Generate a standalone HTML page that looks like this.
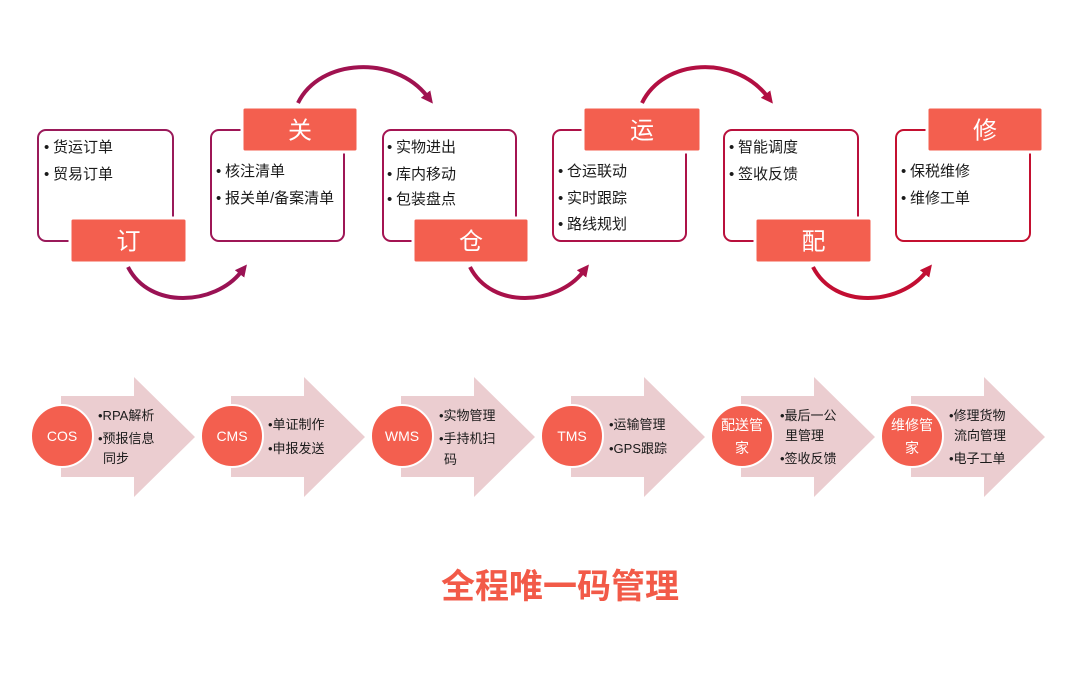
<!DOCTYPE html>
<html>
<head>
<meta charset="utf-8">
<style>
  html,body{margin:0;padding:0;background:#fff;}
  body{width:1080px;height:681px;overflow:hidden;}
  svg{display:block;}
  text{font-family:"Liberation Sans","Noto Sans CJK SC",sans-serif;}
  .li{font-size:15px;fill:#1a1a1a;}
  .lo{font-size:13px;fill:#1a1a1a;}
  .lab{font-size:24px;fill:#fff;}
  .cl{font-size:14px;fill:#fff;}
</style>
</head>
<body>
<svg width="1080" height="681" viewBox="0 0 1080 681" xmlns="http://www.w3.org/2000/svg">
  <defs>
    <marker id="h1" viewBox="0 0 10 10" refX="2" refY="5" markerWidth="3" markerHeight="3" orient="auto" markerUnits="strokeWidth"><path d="M0,0 L10,5 L0,10 z" fill="#9a1254"/></marker>
    <marker id="h2" viewBox="0 0 10 10" refX="2" refY="5" markerWidth="3" markerHeight="3" orient="auto" markerUnits="strokeWidth"><path d="M0,0 L10,5 L0,10 z" fill="#a01250"/></marker>
    <marker id="h3" viewBox="0 0 10 10" refX="2" refY="5" markerWidth="3" markerHeight="3" orient="auto" markerUnits="strokeWidth"><path d="M0,0 L10,5 L0,10 z" fill="#a8114a"/></marker>
    <marker id="h4" viewBox="0 0 10 10" refX="2" refY="5" markerWidth="3" markerHeight="3" orient="auto" markerUnits="strokeWidth"><path d="M0,0 L10,5 L0,10 z" fill="#b20f42"/></marker>
    <marker id="h5" viewBox="0 0 10 10" refX="2" refY="5" markerWidth="3" markerHeight="3" orient="auto" markerUnits="strokeWidth"><path d="M0,0 L10,5 L0,10 z" fill="#c20e32"/></marker>
  </defs>

  <!-- curved connectors -->
  <path d="M128,267 C150,310 215,305 241,272" fill="none" stroke="#9a1254" stroke-width="4" marker-end="url(#h1)"/>
  <path d="M298,103 C320,58 395,55 427,96" fill="none" stroke="#a01250" stroke-width="4" marker-end="url(#h2)"/>
  <path d="M470,267 C492,310 557,305 583,272" fill="none" stroke="#a8114a" stroke-width="4" marker-end="url(#h3)"/>
  <path d="M642,103 C664,58 735,55 767,96" fill="none" stroke="#b20f42" stroke-width="4" marker-end="url(#h4)"/>
  <path d="M813,267 C835,310 900,305 926,272" fill="none" stroke="#c20e32" stroke-width="4" marker-end="url(#h5)"/>

  <!-- boxes -->
  <rect x="38" y="130" width="135" height="111" rx="8" fill="#fff" stroke="#9a1a5a" stroke-width="2"/>
  <rect x="211" y="130" width="133" height="111" rx="8" fill="#fff" stroke="#9e1656" stroke-width="2"/>
  <rect x="383" y="130" width="133" height="111" rx="8" fill="#fff" stroke="#a41452" stroke-width="2"/>
  <rect x="553" y="130" width="133" height="111" rx="8" fill="#fff" stroke="#ad1248" stroke-width="2"/>
  <rect x="724" y="130" width="134" height="111" rx="8" fill="#fff" stroke="#b9103c" stroke-width="2"/>
  <rect x="896" y="130" width="134" height="111" rx="8" fill="#fff" stroke="#c41030" stroke-width="2"/>

  <!-- labels -->
  <g fill="#f35f4f" stroke="#fff" stroke-width="3">
    <rect x="70" y="218" width="117" height="45" rx="3"/>
    <rect x="242" y="107" width="116" height="45" rx="3"/>
    <rect x="413" y="218" width="116" height="45" rx="3"/>
    <rect x="583" y="107" width="118" height="45" rx="3"/>
    <rect x="755" y="218" width="117" height="45" rx="3"/>
    <rect x="927" y="107" width="116" height="45" rx="3"/>
  </g>
  <g class="lab" text-anchor="middle">
    <text class="lab" x="128.5" y="249.5">订</text>
    <text class="lab" x="300" y="138.5">关</text>
    <text class="lab" x="471" y="249.5">仓</text>
    <text class="lab" x="642" y="138.5">运</text>
    <text class="lab" x="813.5" y="249.5">配</text>
    <text class="lab" x="985" y="138.5">修</text>
  </g>

  <!-- box list text -->
  <text class="li" x="44" y="152">•</text><text class="li" x="53" y="152">货运订单</text>
  <text class="li" x="44" y="179">•</text><text class="li" x="53" y="179">贸易订单</text>

  <text class="li" x="216" y="176">•</text><text class="li" x="225" y="176">核注清单</text>
  <text class="li" x="216" y="203">•</text><text class="li" x="225" y="203">报关单/备案清单</text>

  <text class="li" x="387" y="152">•</text><text class="li" x="396" y="152">实物进出</text>
  <text class="li" x="387" y="179">•</text><text class="li" x="396" y="179">库内移动</text>
  <text class="li" x="387" y="204">•</text><text class="li" x="396" y="204">包装盘点</text>

  <text class="li" x="558" y="176">•</text><text class="li" x="567" y="176">仓运联动</text>
  <text class="li" x="558" y="203">•</text><text class="li" x="567" y="203">实时跟踪</text>
  <text class="li" x="558" y="229">•</text><text class="li" x="567" y="229">路线规划</text>

  <text class="li" x="729" y="152">•</text><text class="li" x="738" y="152">智能调度</text>
  <text class="li" x="729" y="179">•</text><text class="li" x="738" y="179">签收反馈</text>

  <text class="li" x="901" y="176">•</text><text class="li" x="910" y="176">保税维修</text>
  <text class="li" x="901" y="203">•</text><text class="li" x="910" y="203">维修工单</text>

  <!-- lower chevrons -->
  <g fill="#ebcdd0">
    <polygon points="61,396 134,396 134,377 195,437 134,497 134,477 61,477"/>
    <polygon points="231,396 304,396 304,377 365,437 304,497 304,477 231,477"/>
    <polygon points="401,396 474,396 474,377 535,437 474,497 474,477 401,477"/>
    <polygon points="571,396 644,396 644,377 705,437 644,497 644,477 571,477"/>
    <polygon points="741,396 814,396 814,377 875,437 814,497 814,477 741,477"/>
    <polygon points="911,396 984,396 984,377 1045,437 984,497 984,477 911,477"/>
  </g>
  <g fill="#f35f4f" stroke="#fff" stroke-width="2">
    <circle cx="62" cy="436" r="31"/>
    <circle cx="232" cy="436" r="31"/>
    <circle cx="402" cy="436" r="31"/>
    <circle cx="572" cy="436" r="31"/>
    <circle cx="742" cy="436" r="31"/>
    <circle cx="912" cy="436" r="31"/>
  </g>
  <g text-anchor="middle">
    <text class="cl" x="62" y="441">COS</text>
    <text class="cl" x="232" y="441">CMS</text>
    <text class="cl" x="402" y="441">WMS</text>
    <text class="cl" x="572" y="441">TMS</text>
    <text class="cl" x="742" y="430">配送管</text>
    <text class="cl" x="742" y="453">家</text>
    <text class="cl" x="912" y="430">维修管</text>
    <text class="cl" x="912" y="453">家</text>
  </g>

  <!-- lower text -->
  <text class="lo" x="98" y="420">•RPA解析</text>
  <text class="lo" x="98" y="443">•预报信息</text>
  <text class="lo" x="103" y="463">同步</text>

  <text class="lo" x="268" y="429">•单证制作</text>
  <text class="lo" x="268" y="453">•申报发送</text>

  <text class="lo" x="439" y="420">•实物管理</text>
  <text class="lo" x="439" y="443">•手持机扫</text>
  <text class="lo" x="444" y="464">码</text>

  <text class="lo" x="609" y="429">•运输管理</text>
  <text class="lo" x="609" y="453">•GPS跟踪</text>

  <text class="lo" x="780" y="420">•最后一公</text>
  <text class="lo" x="785" y="440">里管理</text>
  <text class="lo" x="780" y="463">•签收反馈</text>

  <text class="lo" x="949" y="420">•修理货物</text>
  <text class="lo" x="954" y="440">流向管理</text>
  <text class="lo" x="949" y="463">•电子工单</text>

  <!-- title -->
  <text x="560" y="598" text-anchor="middle" font-size="34" font-weight="bold" fill="#f25a48">全程唯一码管理</text>
</svg>
</body>
</html>
